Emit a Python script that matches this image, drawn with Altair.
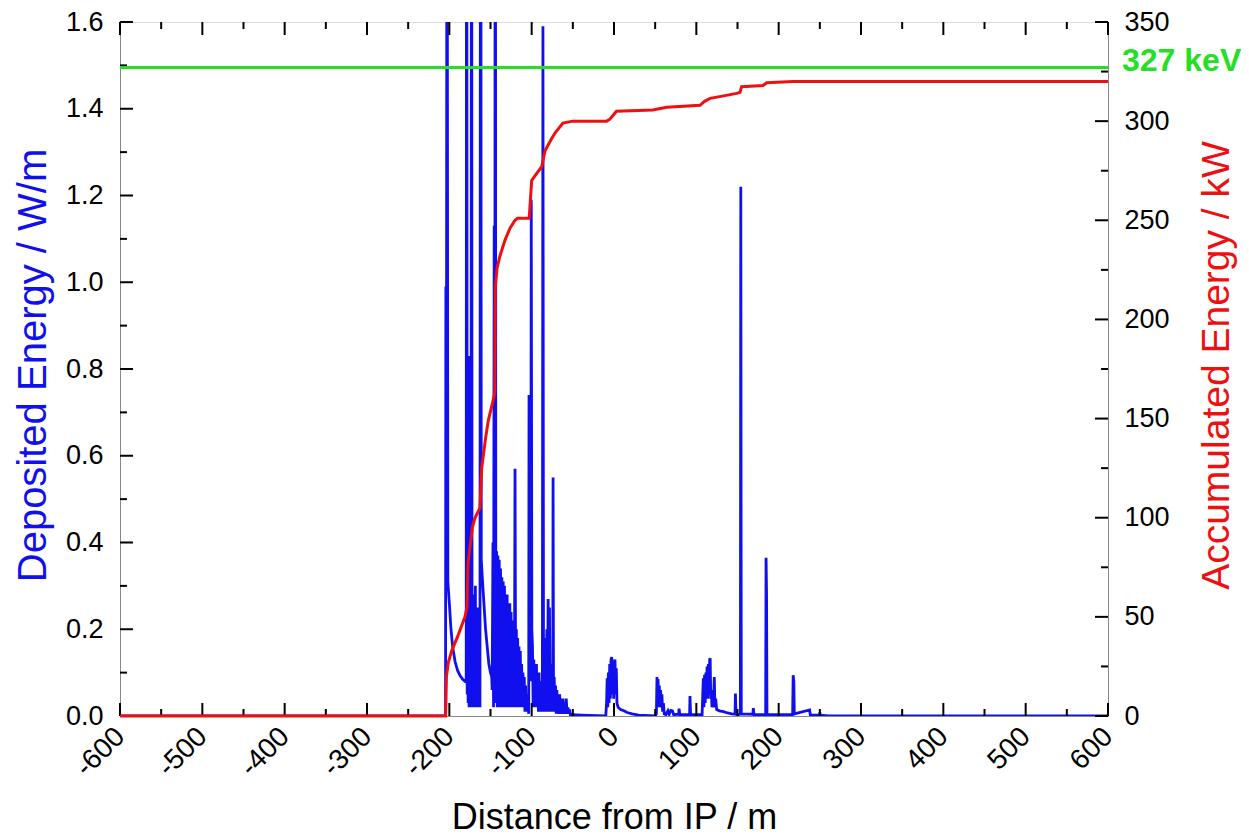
import altair as alt
import pandas as pd

W, H = 988, 694

# ---------------- data ----------------
# Deposited energy (W/m) along the beam line, blue trace
BLUE_X = [
    -600, -205, -204.6, -204.2, -203.6, -202.8, -201.8, -200, -198, -196, -193, -190, -187, -184, -181, -179.5,
    -179, -178.3, -177.8, -177.2, -176.6, -176, -175.4, -174.8, -174.2, -173.6, -173, -172.4,
    -171.6, -170.8, -170, -169.2, -168.4, -167.6, -166.8, -166, -165.2, -164.4, -163.6, -162.8, -162, -161.2,
    -160, -158, -156, -154, -152, -150, -148.5, -148, -147, -146.3, -145.5, -144.8, -144.2, -143.5,
    -142.6, -141.8, -141, -140.2, -139.4, -138.6, -137.8, -137, -136.2, -135.4, -134.6, -133.8, -133, -132.2,
    -131.4, -130.6, -129.8, -129, -128.2, -127.4, -126.6, -125.8, -125, -124.2, -123.4, -122.6, -121.8, -121,
    -120.2, -119.4, -118.6, -117.8, -117, -116.2, -115.4, -114.6, -113.8, -113, -112.2, -111.4, -110.6, -109.8,
    -109, -108.2, -107.4, -106.6, -105.8, -105, -104.2, -103.6, -103.2, -102.6, -101.8, -101, -100.5, -99.8,
    -99, -98.2, -97.4, -96.6, -95.8, -95, -94.2, -93.4, -92.6, -91.8, -91, -90.2, -89.4, -88.6, -87.8, -87,
    -86.3, -85.6, -84.8, -84, -83.2, -82.4, -81.6, -80.8, -80, -79.2, -78.4, -77.6, -76.8, -76, -75.2, -74.4,
    -74, -73.4, -72.6, -71.8, -71, -70.2, -69.4, -68.6, -67.8, -67, -66, -65, -64, -63, -62, -61, -60, -59,
    -58, -57, -56, -55, -54, -53, -50, -40,
    -10, -9, -8.3, -7.6, -6.8, -6.0, -5.2, -4.4, -3.6, -2.8, -2.0, -1.2, -0.4, 0.4, 1.2, 2.0, 2.8, 3.6, 5.0,
    8, 12, 16, 22, 30,
    50, 51.5, 52.2, 52.8, 53.5, 54.2, 55, 55.8, 56.6, 57.4, 58.2, 59, 60, 61, 63, 65.5, 67, 69, 71, 72.5,
    78.5, 79, 80, 91.8, 92.3, 93, 100,
    107, 107.8, 108.5, 109.2, 110, 110.8, 111.6, 112.4, 113, 113.8, 114.6, 115.4, 116.2, 116.8, 117.5, 118.3,
    119, 119.8, 120.6, 121.8, 122.6, 123.5, 124.7, 128, 133, 138, 143, 147, 147.5, 148.2, 151,
    153.5, 154, 154.6, 168.7, 169.2, 170, 184.2, 184.7, 185.3, 185.8, 217, 217.6, 218.4, 219,
    237.6, 238.5, 249.5, 250, 250.6, 260, 600,
]
BLUE_Y = [
    0, 0, 0, 0.99, 0.42, 2.5, 0.31, 0.26, 0.2, 0.16, 0.125, 0.105, 0.093, 0.085, 0.08, 0.078,
    3.0, 0.05, 0.6, 0.03, 0.35, 0.02, 0.83, 0.04, 0.3, 0.02, 3.0, 0.03,
    0.28, 0.02, 0.25, 0.02, 0.3, 0.03, 0.2, 0.02, 0.25, 0.03, 0.15, 0.02, 3.0, 0.36,
    0.32, 0.26, 0.2, 0.16, 0.12, 0.1, 0.09, 0.06, 0.4, 0.02, 1.13, 0.03, 3.0, 0.05,
    0.38, 0.02, 0.37, 0.02, 0.36, 0.03, 0.34, 0.02, 0.32, 0.03, 0.31, 0.02, 0.3, 0.03,
    0.28, 0.02, 0.28, 0.03, 0.26, 0.02, 0.26, 0.03, 0.24, 0.02, 0.22, 0.03, 0.21, 0.02,
    0.57, 0.02, 0.2, 0.03, 0.18, 0.02, 0.16, 0.02, 0.15, 0.02, 0.12, 0.02, 0.1, 0.02,
    0.09, 0.01, 0.07, 0.01, 0.05, 0.01, 0.03, 0.005, 0.74, 0.1, 0.4, 0.08, 1.19, 0.2,
    0.16, 0.02, 0.13, 0.02, 0.12, 0.02, 0.12, 0.02, 0.1, 0.01, 0.1, 0.01, 0.08, 0.01, 0.06, 0.01,
    1.59, 0.05, 0.18, 0.01, 0.15, 0.01, 0.2, 0.01, 0.27, 0.01, 0.25, 0.01, 0.12, 0.01, 0.1, 0.01,
    0.55, 0.01, 0.09, 0.01, 0.07, 0.005, 0.06, 0.005, 0.05, 0.005, 0.05, 0.005, 0.04, 0.005, 0.04, 0.005, 0.03, 0.005,
    0.04, 0.005, 0.02, 0.005, 0.015, 0.003, 0.003, 0.002,
    0.0, 0.03, 0.087, 0.02, 0.1, 0.03, 0.12, 0.04, 0.13, 0.136, 0.05, 0.12, 0.04, 0.125, 0.13, 0.05, 0.11, 0.03, 0.02,
    0.015, 0.012, 0.008, 0.005, 0.002,
    0.0, 0.005, 0.09, 0.02, 0.085, 0.03, 0.07, 0.02, 0.06, 0.02, 0.05, 0.01, 0.03, 0.005, 0.003, 0.012, 0.004, 0.013, 0.012, 0.003,
    0.004, 0.017, 0.003, 0.003, 0.046, 0.003, 0.003,
    0.003, 0.05, 0.087, 0.02, 0.095, 0.03, 0.1, 0.04, 0.114, 0.04, 0.12, 0.05, 0.13, 0.133, 0.04, 0.06,
    0.02, 0.05, 0.02, 0.09, 0.02, 0.04, 0.015, 0.012, 0.01, 0.007, 0.005, 0.004, 0.052, 0.004, 0.003,
    0.005, 1.22, 0.005, 0.004, 0.018, 0.003, 0.003, 0.365, 0.28, 0.003, 0.003, 0.094, 0.08, 0.005,
    0.014, 0.002, 0.002, 0.008, 0.002, 0.0, 0.0,
]

# Accumulated energy (kW), red trace
RED_X = [
    -600, -204.5, -203.5, -201.3, -197, -190, -181, -178.5, -177.3, -172, -168.8, -162.8, -160.7, -156,
    -152.7, -148, -144.8, -144.2, -142, -138.5, -132.4, -126.3, -120.2, -117, -103, -100, -95, -87.8,
    -83.8, -76, -71.7, -62, -50, -13, -9, -5, -1, 3, 47, 64, 104.5, 110, 116.6, 130, 149, 153, 155,
    181, 185.5, 217.4, 287, 600,
]
RED_Y = [
    0, 0, 20, 27, 33, 40, 50, 55, 77, 95, 100, 105, 125, 140,
    149, 157, 163, 216, 226, 232, 240, 246, 250, 251, 251, 270, 273, 277,
    285, 291, 294, 299, 300, 300, 300, 301, 303, 305, 305.6, 307, 308, 310, 311.5, 312.5, 314, 314.5, 317.4,
    318, 319.4, 320, 320, 320,
]

LIMIT_KW = [327]
LIMIT_LABEL = ["327 keV"]

X_TICKS = [-600, -500, -400, -300, -200, -100, 0, 100, 200, 300, 400, 500, 600]
X_MINOR = [-550, -450, -350, -250, -150, -50, 50, 150, 250, 350, 450, 550]
LEFT_TICKS = [0.0, 0.2, 0.4, 0.6, 0.8, 1.0, 1.2, 1.4, 1.6]
LEFT_MINOR = [0.1, 0.3, 0.5, 0.7, 0.9, 1.1, 1.3, 1.5]
RIGHT_TICKS = [0, 50, 100, 150, 200, 250, 300, 350]
RIGHT_MINOR = [25, 75, 125, 175, 225, 275, 325]

BLUE = "#1010ee"
RED = "#ee1010"
GREEN = "#22e022"
FONT = "Liberation Sans"

blue_df = pd.DataFrame({"x": BLUE_X, "y": BLUE_Y})
red_df = pd.DataFrame({"x": RED_X, "y": RED_Y})
limit_df = pd.DataFrame({"x": [-600], "x2": [600], "y": LIMIT_KW, "label": LIMIT_LABEL})

xscale = alt.Scale(domain=[-600, 600], nice=False, zero=False)
xaxis = alt.Axis(
    values=X_TICKS, labelExpr="'' + datum.value", labelAngle=315, labelAlign="right",
    labelBaseline="middle", labelPadding=16, labelFontSize=28, ticks=False, tickSize=0, grid=False,
    title="Distance from IP / m", titleFontSize=36, titleFontWeight="normal",
    titleX=W / 2, titleY=112, titleBaseline="alphabetic", titleAlign="center",
)
ylscale = alt.Scale(domain=[0, 1.6], nice=False, zero=False)
ylaxis = alt.Axis(
    orient="left", values=LEFT_TICKS, format=".1f", labelFontSize=27, labelPadding=17,
    ticks=False, tickSize=0, grid=False, title="Deposited Energy / W/m", titleColor=BLUE,
    titleFontSize=40, titleFontWeight="normal", titleAngle=270, titleX=-75, titleY=343,
    titleAlign="center", titleBaseline="alphabetic",
)
yrscale = alt.Scale(domain=[0, 350], nice=False, zero=False)
yraxis = alt.Axis(
    orient="right", values=RIGHT_TICKS, labelFontSize=27, labelPadding=16,
    ticks=False, tickSize=0, grid=False, title="Accumulated Energy / kW", titleColor=RED,
    titleFontSize=39, titleFontWeight="normal", titleAngle=270, titleX=120, titleY=343,
    titleAlign="center", titleBaseline="alphabetic",
)


def X(field="x"):
    return alt.X(f"{field}:Q", scale=xscale, axis=xaxis)


def YL(field="y"):
    return alt.Y(f"{field}:Q", scale=ylscale, axis=ylaxis)


def YR(field="y"):
    return alt.Y(f"{field}:Q", scale=yrscale, axis=yraxis)


blue_line = alt.Chart(blue_df).mark_line(color=BLUE, strokeWidth=2.8, clip=True).encode(
    x=X(), y=YL(), order="x:Q"
)


def xtick_layer(vals, length, top):
    df = pd.DataFrame({"t": vals})
    if top:
        yv, y2v = alt.value(0), alt.value(length)
    else:
        yv, y2v = alt.value(H), alt.value(H - length)
    return alt.Chart(df).mark_rule(color="black", strokeWidth=2).encode(x=X("t"), y=yv, y2=y2v)


def ltick_layer(vals, length):
    df = pd.DataFrame({"t": vals})
    return alt.Chart(df).mark_rule(color="black", strokeWidth=2).encode(
        y=YL("t"), x=alt.value(0), x2=alt.value(length)
    )


def rtick_layer(vals, length):
    df = pd.DataFrame({"t": vals})
    return alt.Chart(df).mark_rule(color="black", strokeWidth=2).encode(
        y=YR("t"), x=alt.value(W - length), x2=alt.value(W)
    )


left = alt.layer(
    blue_line,
    xtick_layer(X_TICKS, 13, False), xtick_layer(X_MINOR, 7, False),
    xtick_layer(X_TICKS, 13, True), xtick_layer(X_MINOR, 7, True),
    ltick_layer(LEFT_TICKS, 13), ltick_layer(LEFT_MINOR, 7),
)

red_line = alt.Chart(red_df).mark_line(color=RED, strokeWidth=3).encode(
    x=X(), y=YR(), order="x:Q"
)
green_line = alt.Chart(limit_df).mark_rule(color=GREEN, strokeWidth=3).encode(
    x=X(), x2="x2:Q", y=YR()
)
green_text = alt.Chart(limit_df).mark_text(
    color=GREEN, font=FONT, fontSize=32, fontWeight="bold", align="left",
    baseline="alphabetic", dy=3,
).encode(text="label:N", x=alt.value(W + 14), y=YR())

right = alt.layer(
    red_line, green_line, green_text,
    rtick_layer(RIGHT_TICKS, 13), rtick_layer(RIGHT_MINOR, 7),
)

chart = (
    alt.layer(left, right)
    .resolve_scale(y="independent")
    .properties(
        width=W, height=H,
        autosize=alt.AutoSizeParams(type="none"),
        padding={"left": 112, "top": 14, "right": 133, "bottom": 120},
    )
    .configure_view(stroke="black", strokeWidth=2)
    .configure_axis(
        grid=False, domainColor="black", domainWidth=2, labelColor="black",
        labelFont=FONT, titleFont=FONT,
    )
    .configure(background="white")
)

chart.save("out.html", embed_options={"renderer": "svg", "actions": False})
